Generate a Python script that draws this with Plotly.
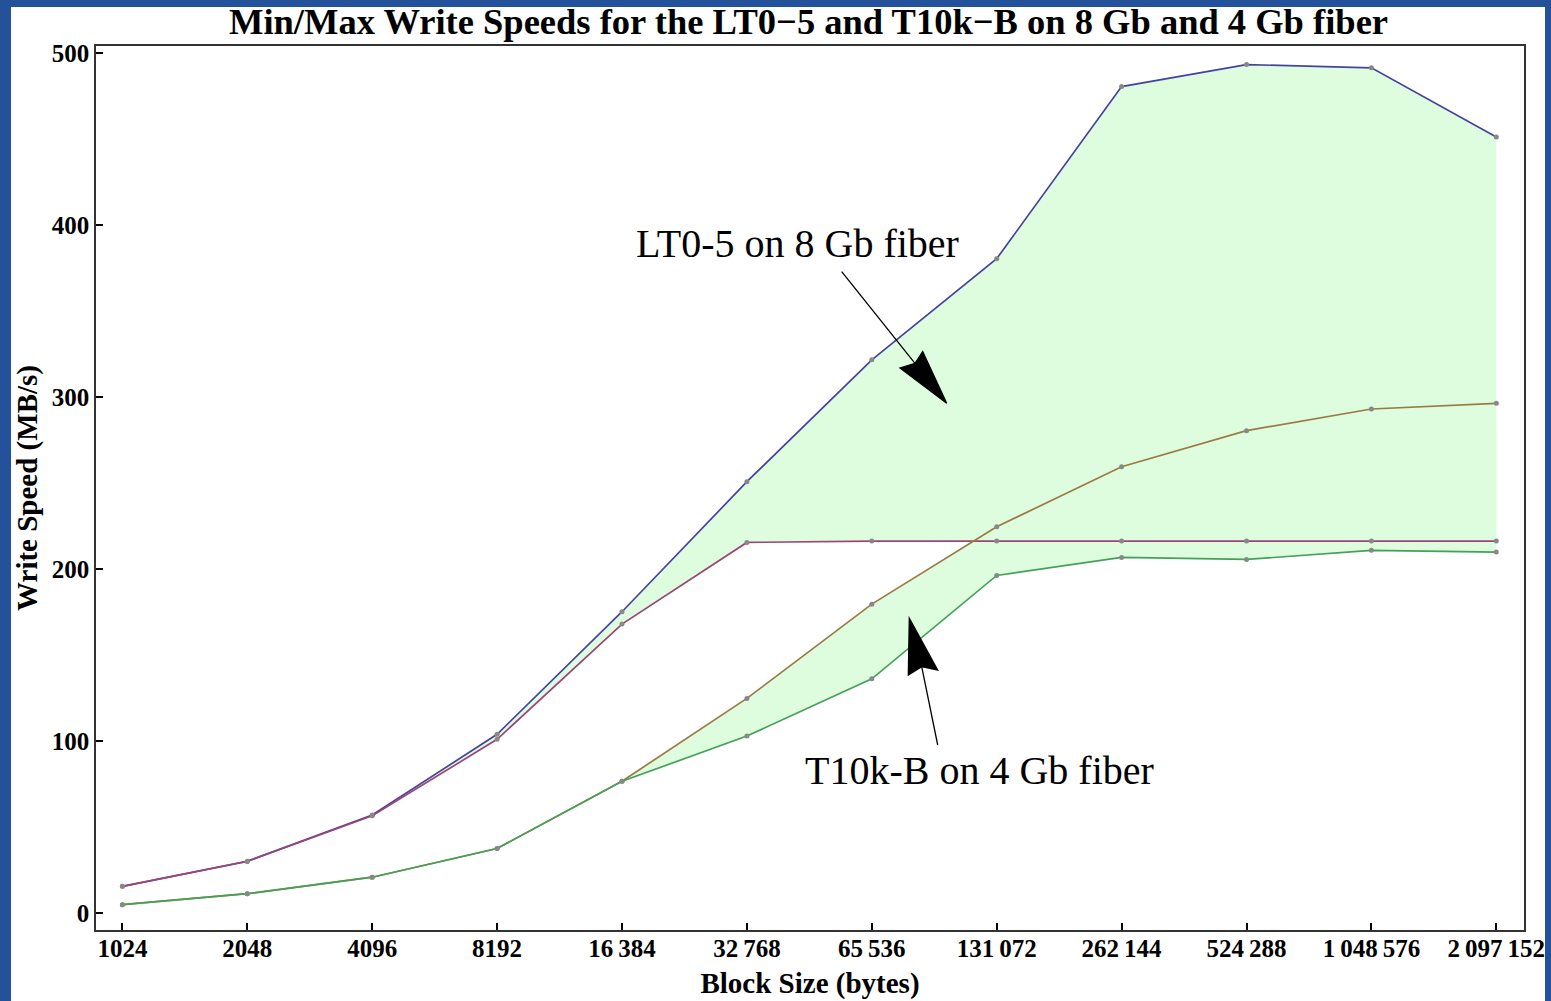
import math
import plotly.graph_objects as go

# ---------------- data ----------------
block_sizes = [1024, 2048, 4096, 8192, 16384, 32768, 65536, 131072,
               262144, 524288, 1048576, 2097152]
tick_labels = ["1024", "2048", "4096", "8192", "16\u2009384", "32\u2009768",
               "65\u2009536", "131\u2009072", "262\u2009144", "524\u2009288",
               "1\u2009048\u2009576", "2\u2009097\u2009152"]
lto5_max = [15.5, 30.1, 57.0, 103.9, 175.2, 250.8, 321.7, 380.5,
            480.6, 493.4, 491.5, 451.3]
lto5_min = [15.5, 30.0, 56.5, 101.0, 168.0, 215.5, 216.3, 216.3,
            216.3, 216.3, 216.3, 216.3]
t10k_max = [4.8, 11.2, 20.8, 37.5, 76.6, 124.8, 179.6, 224.6,
            259.5, 280.5, 293.1, 296.4]
t10k_min = [4.8, 11.2, 20.8, 37.5, 76.6, 102.9, 136.2, 196.3,
            206.8, 205.6, 210.9, 209.9]
y_ticks = [0, 100, 200, 300, 400, 500]

# ---------------- style ----------------
C_BLUE = "#45449e"
C_MAG = "#9b4579"
C_OLIVE = "#9c7a45"
C_GREEN = "#45a058"
FILL = "#defcde"
SERIF = "Liberation Serif, Times New Roman, serif"

W, H = 1551, 1001
ML, MR, MT, MB = 96, 27, 46, 71
PW, PH = W - ML - MR, H - MT - MB


def px2paper_x(px):
    return (px - ML) / PW


def px2paper_y(py):
    return (H - MB - py) / PH


fig = go.Figure()

# filled bands (drawn first, lines on top)
for lo, hi in [(lto5_min, lto5_max), (t10k_min, t10k_max)]:
    fig.add_trace(go.Scatter(x=block_sizes, y=lo, mode="lines",
                             line=dict(width=0, color=FILL),
                             showlegend=False, hoverinfo="skip"))
    fig.add_trace(go.Scatter(x=block_sizes, y=hi, mode="lines",
                             fill="tonexty", fillcolor=FILL,
                             line=dict(width=0, color=FILL),
                             showlegend=False, hoverinfo="skip"))

for ys, col, name in [(lto5_max, C_BLUE, "LT0-5 max"),
                      (lto5_min, C_MAG, "LT0-5 min"),
                      (t10k_max, C_OLIVE, "T10k-B max"),
                      (t10k_min, C_GREEN, "T10k-B min")]:
    fig.add_trace(go.Scatter(x=block_sizes, y=ys, mode="lines+markers",
                             name=name, showlegend=False,
                             line=dict(color=col, width=1.7),
                             marker=dict(color="#888888", size=5)))

l2 = math.log10(2)
x_range = [(10 - 0.2114) * l2, (21 + 0.2218) * l2]

axis_common = dict(
    showline=True, linecolor="#333333", linewidth=1.5, mirror=True,
    ticks="inside", ticklen=7, tickwidth=2.2, tickcolor="black",
    showgrid=False, zeroline=False,
    tickfont=dict(family=SERIF, size=25, color="black", weight="bold"),
)

fig.update_xaxes(type="log", range=x_range, tickmode="array",
                 tickvals=block_sizes, ticktext=tick_labels,
                 ticklabelstandoff=-5,
                 title=dict(text="Block Size (bytes)", standoff=12,
                            font=dict(family=SERIF, size=29, color="black",
                                      weight="bold")),
                 **axis_common)
fig.update_yaxes(range=[-9.9, 504.2], tickmode="array", tickvals=y_ticks,
                 title=dict(text="Write Speed (MB/s)", standoff=6,
                            font=dict(family=SERIF, size=29, color="black",
                                      weight="bold")),
                 **axis_common)

# white panel over the blue page background
fig.add_shape(type="rect", xref="paper", yref="paper",
              x0=px2paper_x(11), x1=px2paper_x(1545),
              y0=px2paper_y(1010), y1=px2paper_y(7),
              fillcolor="white", line=dict(width=0), layer="below")

# arrows (pixel offsets relative to the arrow tip)
arrows = [
    # tip (px), tail, notch, left corner, right corner (relative px, y up)
    ((946.7, 403.3), (-105, 131.6), (-31.7, 40), (-46.7, 35.3), (-24, 51.6)),
    ((909.3, 618.3), (28.4, -126.7), (12.4, -48.4), (-1, -56.7), (28.4, -51.7)),
]
for tip, tail, notch, c1, c2 in arrows:
    path = (f"M {tail[0]},{tail[1]} L {notch[0]},{notch[1]} "
            f"M {c1[0]},{c1[1]} L 0,0 L {c2[0]},{c2[1]} L {notch[0]},{notch[1]} Z")
    fig.add_shape(type="path", xref="paper", yref="paper",
                  xsizemode="pixel", ysizemode="pixel",
                  xanchor=px2paper_x(tip[0]), yanchor=px2paper_y(tip[1]),
                  path=path, fillcolor="black",
                  line=dict(color="black", width=1.3))

fig.add_annotation(text="LT0-5 on 8 Gb fiber", xref="paper", yref="paper",
                   x=px2paper_x(797), y=px2paper_y(243.5), showarrow=False,
                   xanchor="center", yanchor="middle",
                   font=dict(family=SERIF, size=40, color="black"))
fig.add_annotation(text="T10k-B on 4 Gb fiber", xref="paper", yref="paper",
                   x=px2paper_x(979.5), y=px2paper_y(770), showarrow=False,
                   xanchor="center", yanchor="middle",
                   font=dict(family=SERIF, size=40, color="black"))

fig.update_layout(
    width=W, height=H,
    margin=dict(l=ML, r=MR, t=MT, b=MB, autoexpand=False),
    paper_bgcolor="#23529b", plot_bgcolor="white",
    title=dict(text="Min/Max Write Speeds for the LT0\u22125 and T10k\u2212B on 8 Gb and 4 Gb fiber",
               x=808.5 / W, xanchor="center",
               y=1 - 21 / H, yanchor="middle", yref="container",
               font=dict(family=SERIF, size=36.5, color="black", weight="bold")),
)

fig.write_html("out.html")
